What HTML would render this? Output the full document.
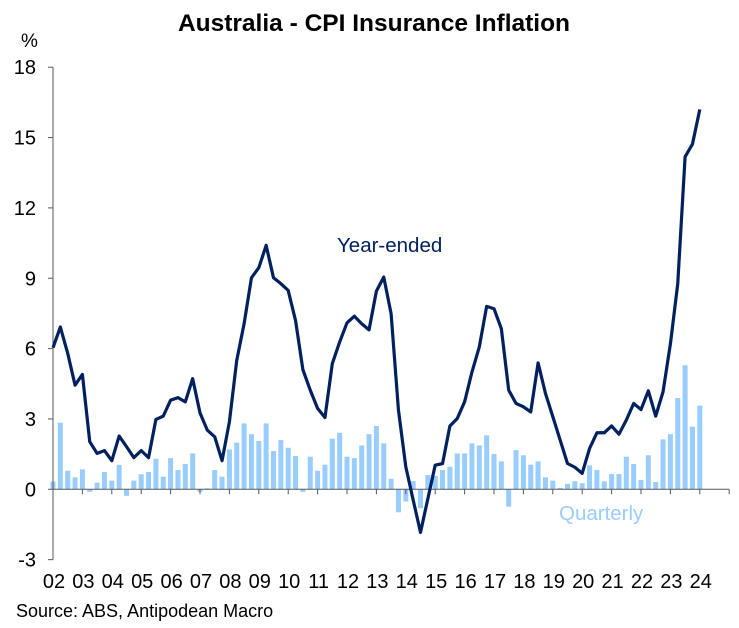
<!DOCTYPE html>
<html><head><meta charset="utf-8"><style>
body{margin:0;background:#fff;}
svg{display:block;font-family:"Liberation Sans",Arial,sans-serif;}
</style></head><body>
<svg id="chart" width="739" height="628" viewBox="0 0 739 628" xmlns="http://www.w3.org/2000/svg">
<text x="374" y="31" text-anchor="middle" font-size="24.5" font-weight="bold" fill="#000">Australia - CPI Insurance Inflation</text>
<text x="21" y="47" font-size="19" fill="#000">%</text>
<text x="16" y="617" font-size="18" fill="#000">Source: ABS, Antipodean Macro</text>
<g id="grid"></g><g id="bars"></g><g id="axes"></g><g id="line"></g>
<text x="337" y="252" font-size="20.5" fill="#002060">Year-ended</text>
<text x="559" y="520" font-size="20.5" fill="#99CCFF">Quarterly</text>
</svg>
<script>
const yearLabels = ["02","03","04","05","06","07","08","09","10","11","12","13","14","15","16","17","18","19","20","21","22","23","24"];
const yTicks = [-3,0,3,6,9,12,15,18];
const yearEnded = [6.04,6.92,5.8,4.44,4.9,2.03,1.53,1.65,1.22,2.27,1.82,1.35,1.65,1.35,2.98,3.12,3.8,3.91,3.73,4.72,3.26,2.52,2.24,1.22,2.88,5.5,7.06,9.02,9.45,10.4,9.02,8.77,8.48,7.2,5.1,4.23,3.45,3.06,5.36,6.28,7.1,7.38,7.06,6.8,8.45,9.05,7.49,3.38,0.96,-0.45,-1.84,-0.4,1.03,1.1,2.7,3.02,3.73,5.0,6.07,7.8,7.7,6.85,4.23,3.66,3.52,3.3,5.39,4.09,3.1,2.1,1.1,0.94,0.68,1.74,2.41,2.41,2.7,2.35,2.95,3.66,3.4,4.2,3.12,4.16,6.2,8.77,14.18,14.72,16.2];
const quarterly = [0.33,2.84,0.79,0.51,0.85,-0.11,0.28,0.74,0.37,1.04,-0.28,0.37,0.64,0.74,1.3,0.54,1.33,0.82,1.08,1.53,-0.11,0.04,0.82,0.54,1.7,1.99,2.81,2.35,2.06,2.81,1.63,2.1,1.77,1.42,-0.11,1.39,0.79,1.05,2.16,2.41,1.39,1.33,1.87,2.35,2.7,1.96,0.45,-0.98,-0.52,0.35,-0.81,0.61,0.57,0.82,0.96,1.53,1.53,1.96,1.87,2.3,1.5,1.19,-0.74,1.67,1.45,1.05,1.19,0.51,0.37,0.06,0.23,0.34,0.26,1.02,0.82,0.34,0.65,0.65,1.39,1.08,0.4,1.45,0.31,2.13,2.35,3.89,5.29,2.67,3.57];
const NS="http://www.w3.org/2000/svg";
const x0=53, qStep=7.35, yZero=489.3, yUnit=23.45;
const xq=i=>x0+i*qStep;
const yv=v=>yZero-v*yUnit;
function mk(tag,attrs,parent){const e=document.createElementNS(NS,tag);for(const k in attrs)e.setAttribute(k,attrs[k]);parent.appendChild(e);return e;}
const gb=document.getElementById('bars'), ga=document.getElementById('axes'), gl=document.getElementById('line');
quarterly.forEach((v,i)=>{
  const r=mk('rect',{x:xq(i)-2.5,y:Math.min(yv(v),yv(0)),width:5,height:Math.abs(yv(v)-yv(0)),fill:'#99CCFF'},gb);
  
  
});
const ax=mk('line',{x1:x0,y1:yv(18),x2:x0,y2:yv(-3),stroke:'#595959','stroke-width':1},ga);


yTicks.forEach(t=>{
  mk('line',{x1:x0-5,y1:yv(t),x2:x0,y2:yv(t),stroke:'#595959','stroke-width':1},ga);
  const tx=mk('text',{x:36,y:yv(t)+7,'text-anchor':'end','font-size':20,fill:'#000'},ga);
  tx.textContent=t;
  
  
});
const xa=mk('line',{x1:x0,y1:yv(0),x2:xq(yearLabels.length*4),y2:yv(0),stroke:'#595959','stroke-width':1},ga);


for(let k=0;k<=yearLabels.length;k++){
  mk('line',{x1:xq(k*4),y1:yv(0),x2:xq(k*4),y2:yv(0)+5,stroke:'#595959','stroke-width':1},ga);
}
yearLabels.forEach((l,k)=>{
  const tx=mk('text',{x:xq(k*4)+1,y:588,'text-anchor':'middle','font-size':20,fill:'#000'},ga);
  tx.textContent=l;
  
  
});
const p=mk('polyline',{points:yearEnded.map((v,i)=>xq(i)+','+yv(v)).join(' '),fill:'none',stroke:'#002060','stroke-width':3.2,'stroke-linejoin':'round'},gl);


</script>
</body></html>
